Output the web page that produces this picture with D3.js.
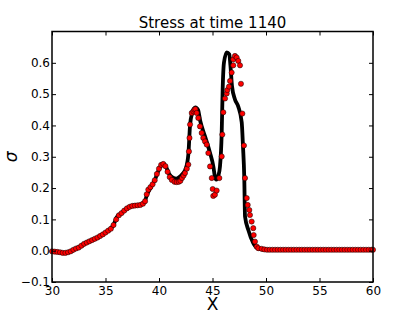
<!DOCTYPE html>
<html>
<head>
<meta charset="utf-8">
<script src="https://cdn.jsdelivr.net/npm/d3@7"></script>
<style>
  body { margin: 0; background: #fff; }
  text { font-family: "DejaVu Sans", sans-serif; }
</style>
</head>
<body>
<script>
/* ===== data ===== */
var titleText = "Stress at time 1140";
var xTicks = [30, 35, 40, 45, 50, 55, 60];
var yTicks = [-0.1, 0.0, 0.1, 0.2, 0.3, 0.4, 0.5, 0.6];

// solid black curve
var lineX = [30.0, 30.5, 31.0, 31.4, 31.8, 32.3, 32.8, 33.2, 33.7, 34.2, 34.6, 35.0, 35.4, 35.75, 36.05,
    36.5, 36.9, 37.3, 37.8, 38.2, 38.6, 38.9, 39.2, 39.6, 40.0, 40.35, 40.65, 40.95, 41.3, 41.6, 41.9,
    42.2, 42.5, 42.75, 42.9, 43.1, 43.4, 43.65, 43.85, 44.3, 44.77, 45.08, 45.23, 45.35, 45.55, 45.7,
    45.86, 45.95, 46.07, 46.33, 46.57, 46.68, 46.82, 47.1, 47.41, 47.73, 47.85, 47.97, 48.04, 48.35,
    48.81, 49.28, 49.8, 50.5, 52.0, 54.0, 56.0, 58.0, 60.0];
var lineY = [-0.002, -0.004, -0.007, -0.006, -0.002, 0.008, 0.016, 0.026, 0.033, 0.040, 0.049, 0.058, 0.068, 0.082, 0.107,
    0.120, 0.132, 0.141, 0.145, 0.146, 0.153, 0.180, 0.200, 0.225, 0.260, 0.278, 0.268, 0.245, 0.233, 0.230, 0.235,
    0.245, 0.262, 0.310, 0.400, 0.440, 0.458, 0.450, 0.415, 0.365, 0.312, 0.269, 0.235, 0.227, 0.240, 0.269,
    0.376, 0.515, 0.600, 0.633, 0.627, 0.590, 0.526, 0.483, 0.460, 0.410, 0.333, 0.232, 0.109, 0.066,
    0.024, 0.006, 0.003, 0.002, 0.002, 0.002, 0.002, 0.002, 0.002];

// red markers
var dotX = [30.0, 30.25, 30.5, 30.75, 31.0, 31.25, 31.5, 31.75, 32.0, 32.25, 32.5, 32.75, 33.0, 33.25, 33.5,
    33.75, 34.0, 34.25, 34.5, 34.75, 35.0, 35.25, 35.5, 35.75, 36.0, 36.25, 36.5, 36.75, 37.0, 37.25,
    37.5, 37.75, 38.0, 38.25, 38.5, 38.7, 38.85, 39.0, 39.2, 39.4, 39.6, 39.8, 40.0, 40.2, 40.4,
    40.6, 40.8, 41.0, 41.2, 41.45, 41.65, 41.85, 42.0, 42.15, 42.3, 42.43, 42.6, 42.74, 42.8, 42.85,
    42.9, 43.06, 43.21, 43.3, 43.4, 43.52, 43.67, 43.83, 43.99, 44.14, 44.3, 44.46, 44.61, 44.77, 44.93,
    45.02, 45.07, 45.23, 45.39, 45.64, 45.86, 45.92, 46.01, 46.17, 46.33, 46.38, 46.54, 46.64, 46.79,
    46.94, 46.94, 47.1, 47.26, 47.41, 47.57, 47.66, 47.79, 47.94, 48.04, 48.2, 48.29, 48.44, 48.5,
    48.66, 48.81, 48.85, 48.97, 49.13, 49.28, 49.6, 49.85, 50.1, 50.35, 50.6, 50.85, 51.1, 51.35,
    51.6, 51.85, 52.1, 52.35, 52.6, 52.85, 53.1, 53.35, 53.6, 53.85, 54.1, 54.35, 54.6, 54.85, 55.1,
    55.35, 55.6, 55.85, 56.1, 56.35, 56.6, 56.85, 57.1, 57.35, 57.6, 57.85, 58.1, 58.35, 58.6, 58.85,
    59.1, 59.35, 59.6, 59.85, 60.0];
var dotY = [-0.002, -0.003, -0.004, -0.005, -0.007, -0.007, -0.005, -0.002, 0.003, 0.007, 0.010, 0.016, 0.022, 0.026, 0.030,
    0.034, 0.038, 0.042, 0.047, 0.052, 0.058, 0.064, 0.070, 0.082, 0.100, 0.113, 0.120, 0.128, 0.135, 0.140,
    0.143, 0.144, 0.145, 0.146, 0.150, 0.158, 0.180, 0.195, 0.203, 0.212, 0.225, 0.245, 0.262, 0.274, 0.277,
    0.270, 0.252, 0.235, 0.226, 0.220, 0.219, 0.220, 0.223, 0.232, 0.240, 0.248, 0.262, 0.275, 0.317, 0.360,
    0.403, 0.440, 0.445, 0.450, 0.452, 0.440, 0.424, 0.397, 0.376, 0.360, 0.349, 0.339, 0.312, 0.269, 0.232,
    0.197, 0.175, 0.179, 0.192, 0.232, 0.301, 0.371, 0.442, 0.486, 0.502, 0.513, 0.524, 0.542, 0.569,
    0.592, 0.611, 0.622, 0.617, 0.606, 0.592, 0.533, 0.438, 0.336, 0.232, 0.168, 0.146, 0.130, 0.114,
    0.093, 0.072, 0.050, 0.029, 0.013, 0.008, 0.006, 0.004, 0.003, 0.003, 0.003, 0.003, 0.003, 0.003,
    0.003, 0.003, 0.003, 0.003, 0.003, 0.003, 0.003, 0.003, 0.003, 0.003, 0.003, 0.003, 0.003, 0.003, 0.003,
    0.003, 0.003, 0.003, 0.003, 0.003, 0.003, 0.003, 0.003, 0.003, 0.003, 0.003, 0.003, 0.003, 0.003, 0.003,
    0.003, 0.003, 0.003, 0.003, 0.003];

/* ===== layout ===== */
var w = 415, h = 313;
var plotLeft = 52, plotRight = 373, plotTop = 31.5, plotBottom = 282;
var tickLen = 4;

var svg = d3.select("body").append("svg")
    .attr("width", w)
    .attr("height", h);

var xScale = d3.scaleLinear().domain([30, 60]).range([plotLeft, plotRight]);
var yScale = d3.scaleLinear().domain([-0.1, 0.7]).range([plotBottom, plotTop]);

var lineData = lineX.map(function (x, i) { return {x: x, y: lineY[i]}; });
var dotData = dotX.map(function (x, i) { return {x: x, y: dotY[i]}; });

// black curve
var curve = d3.line()
    .x(function (d) { return xScale(d.x); })
    .y(function (d) { return yScale(d.y); })
    .curve(d3.curveMonotoneX);

svg.append("path")
    .datum(lineData)
    .attr("fill", "none")
    .attr("stroke", "#000")
    .attr("stroke-width", 3.8)
    .attr("stroke-linejoin", "round")
    .attr("d", curve);

// red dots
svg.append("g").selectAll("circle")
    .data(dotData)
    .enter().append("circle")
    .attr("cx", function (d) { return xScale(d.x); })
    .attr("cy", function (d) { return yScale(d.y); })
    .attr("r", 2.6)
    .attr("fill", "#ff0000")
    .attr("stroke", "#000")
    .attr("stroke-width", 0.5);

/* ===== axes ===== */
function styleAxis(g) {
    g.attr("font-size", 12).attr("font-family", "DejaVu Sans, sans-serif");
    g.select(".domain").remove();
    g.selectAll("line").attr("stroke", "#000").attr("stroke-width", 1);
    g.selectAll("text").attr("fill", "#000");
}

svg.append("g")
    .attr("transform", "translate(0," + plotBottom + ")")
    .call(d3.axisBottom(xScale).tickValues(xTicks).tickSizeInner(-tickLen).tickSizeOuter(0)
        .tickPadding(4).tickFormat(d3.format("d")))
    .call(styleAxis);
svg.append("g")
    .attr("transform", "translate(0," + plotTop + ")")
    .call(d3.axisTop(xScale).tickValues(xTicks).tickSizeInner(-tickLen).tickSizeOuter(0).tickFormat(""))
    .call(styleAxis);
svg.append("g")
    .attr("transform", "translate(" + plotLeft + ",0)")
    .call(d3.axisLeft(yScale).tickValues(yTicks).tickSizeInner(-tickLen).tickSizeOuter(0)
        .tickPadding(2).tickFormat(d3.format(".1f")))
    .call(styleAxis);
svg.append("g")
    .attr("transform", "translate(" + plotRight + ",0)")
    .call(d3.axisRight(yScale).tickValues(yTicks).tickSizeInner(-tickLen).tickSizeOuter(0).tickFormat(""))
    .call(styleAxis);

// frame
svg.append("rect")
    .attr("x", plotLeft)
    .attr("y", plotTop)
    .attr("width", plotRight - plotLeft)
    .attr("height", plotBottom - plotTop)
    .attr("fill", "none")
    .attr("stroke", "#000")
    .attr("stroke-width", 1.5);

/* ===== labels ===== */
svg.append("text")
    .attr("x", (plotLeft + plotRight) / 2)
    .attr("y", 28)
    .attr("text-anchor", "middle")
    .attr("font-size", 15)
    .text(titleText);

svg.append("text")
    .attr("x", (plotLeft + plotRight) / 2)
    .attr("y", 310)
    .attr("text-anchor", "middle")
    .attr("font-size", 17)
    .text("X");

svg.append("text")
    .attr("transform", "translate(17," + ((plotTop + plotBottom) / 2) + ") rotate(-90)")
    .attr("text-anchor", "middle")
    .attr("font-size", 17)
    .attr("font-style", "italic")
    .text("σ");
</script>
</body>
</html>
